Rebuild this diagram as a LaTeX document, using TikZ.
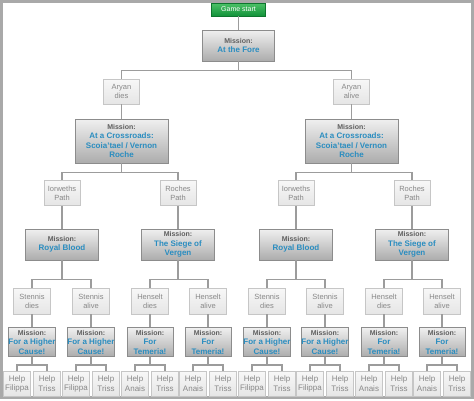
\documentclass[tikz,border=0pt]{standalone}
\usepackage{fontspec}
\setmainfont{Liberation Sans}
\usepackage{tikz}
\usetikzlibrary{positioning, calc}

\definecolor{startgreen}{HTML}{12923A}
\definecolor{startlight}{HTML}{4CC267}
\definecolor{linegray}{HTML}{9C9C9C}
\definecolor{titleblue}{HTML}{2A8DC0}
\definecolor{labelgray}{HTML}{5E5E5E}
\definecolor{choicetext}{HTML}{888888}
\definecolor{framegray}{HTML}{A9A9A9}

\newcommand{\mis}{{\color{labelgray}\fontsize{7}{8.5}\selectfont Mission:}}

\begin{document}
\begin{tikzpicture}[x=1pt, y=-1pt]
        % Stiluri
        \tikzstyle{start} = [draw=startgreen!80!black, top color=startlight, bottom color=startgreen, text=white, font=\fontsize{7}{8}\selectfont, minimum width=54pt, minimum height=13pt, inner sep=0pt, line width=0.6pt]
        \tikzstyle{mission} = [draw=gray!90, top color=gray!12, bottom color=gray!65, text=titleblue, align=center, font=\bfseries\fontsize{8}{9.5}\selectfont, inner sep=0pt, line width=0.6pt]
        \tikzstyle{choice} = [draw=gray!45, top color=gray!6, bottom color=gray!20, text=choicetext, align=center, font=\fontsize{7.5}{9}\selectfont, minimum width=36pt, minimum height=25pt, inner sep=0.5pt, line width=0.6pt]
        \tikzstyle{help} = [choice, minimum width=27pt, font=\fontsize{8}{9.5}\selectfont]
        \tikzstyle{link} = [draw=linegray, line width=1.2pt]

        \useasboundingbox (0,0) rectangle (474,400);
        \draw[framegray, line width=3pt] (1.5,1.5) rectangle (472,397.5);

        % --- Start ---
        \node [start] (start) at (238.5,9.5) {Game start};
        \node [mission, minimum width=72pt, minimum height=31pt] (fore) at (238.5,45.5) {\mis\\At the Fore};
        \draw [link] (start) -- (fore);

        % --- Aryan ---
        \node [choice] (dies) at (121.5,91.5) {Aryan\\dies};
        \node [choice] (alive) at (351.5,91.5) {Aryan\\alive};
        \draw [link] (fore.south) -- ++(0,9) -| (dies.north);
        \draw [link] (fore.south) -- ++(0,9) -| (alive.north);

        \node [mission, minimum width=93pt, minimum height=44pt] (crossL) at (121.5,141) {\mis\\At a Crossroads:\\Scoia'tael / Vernon\\Roche};
        \node [mission, minimum width=93pt, minimum height=44pt] (crossR) at (351.5,141) {\mis\\At a Crossroads:\\Scoia'tael / Vernon\\Roche};
        \draw [link] (dies) -- (crossL);
        \draw [link] (alive) -- (crossR);

        % --- Paths ---
        \node [choice] (iorL) at (62,193) {Iorweths\\Path};
        \node [choice] (rochL) at (178,193) {Roches\\Path};
        \node [choice] (iorR) at (296,193) {Iorweths\\Path};
        \node [choice] (rochR) at (412,193) {Roches\\Path};
        \draw [link] (crossL.south) -- ++(0,9) -| (iorL.north);
        \draw [link] (crossL.south) -- ++(0,9) -| (rochL.north);
        \draw [link] (crossR.south) -- ++(0,9) -| (iorR.north);
        \draw [link] (crossR.south) -- ++(0,9) -| (rochR.north);

        \node [mission, minimum width=73pt, minimum height=31pt] (royalL) at (62,244.5) {\mis\\Royal Blood};
        \node [mission, minimum width=73pt, minimum height=31pt] (siegeL) at (178,244.5) {\mis\\The Siege of\\Vergen};
        \node [mission, minimum width=73pt, minimum height=31pt] (royalR) at (296,244.5) {\mis\\Royal Blood};
        \node [mission, minimum width=73pt, minimum height=31pt] (siegeR) at (412,244.5) {\mis\\The Siege of\\Vergen};
        \draw [link] (iorL) -- (royalL);
        \draw [link] (rochL) -- (siegeL);
        \draw [link] (iorR) -- (royalR);
        \draw [link] (rochR) -- (siegeR);

        % --- Stennis / Henselt ---
        \foreach \n/\x/\who/\fate/\ta/\tb/\ally in {1/32/Stennis/dies/For a Higher/Cause!/Filippa, 2/91/Stennis/alive/For a Higher/Cause!/Filippa, 3/150/Henselt/dies/For/Temeria!/Anais, 4/208/Henselt/alive/For/Temeria!/Anais, 5/267/Stennis/dies/For a Higher/Cause!/Filippa, 6/325/Stennis/alive/For a Higher/Cause!/Filippa, 7/384/Henselt/dies/For/Temeria!/Anais, 8/442/Henselt/alive/For/Temeria!/Anais} {
            \node [choice, minimum width=37pt, minimum height=26pt] (c\n) at (\x,301) {\who\\\fate};
            \node [mission, minimum width=46pt, minimum height=29pt, below=13pt of c\n] (m\n) {\mis\\\ta\\\tb};
            \node [help, below=14pt of m\n, xshift=-15pt] (ha\n) {Help\\\ally};
            \node [help, below=14pt of m\n, xshift=15pt] (hb\n) {Help\\Triss};
            \draw [link] (c\n) -- (m\n);
            \draw [link] (m\n.south) -- ++(0,8) -| (ha\n.north);
            \draw [link] (m\n.south) -- ++(0,8) -| (hb\n.north);
        }

        \draw [link] (royalL.south) -- ++(0,19.5) -| (c1.north);
        \draw [link] (royalL.south) -- ++(0,19.5) -| (c2.north);
        \draw [link] (siegeL.south) -- ++(0,19.5) -| (c3.north);
        \draw [link] (siegeL.south) -- ++(0,19.5) -| (c4.north);
        \draw [link] (royalR.south) -- ++(0,19.5) -| (c5.north);
        \draw [link] (royalR.south) -- ++(0,19.5) -| (c6.north);
        \draw [link] (siegeR.south) -- ++(0,19.5) -| (c7.north);
        \draw [link] (siegeR.south) -- ++(0,19.5) -| (c8.north);

    \end{tikzpicture}
\end{document}
